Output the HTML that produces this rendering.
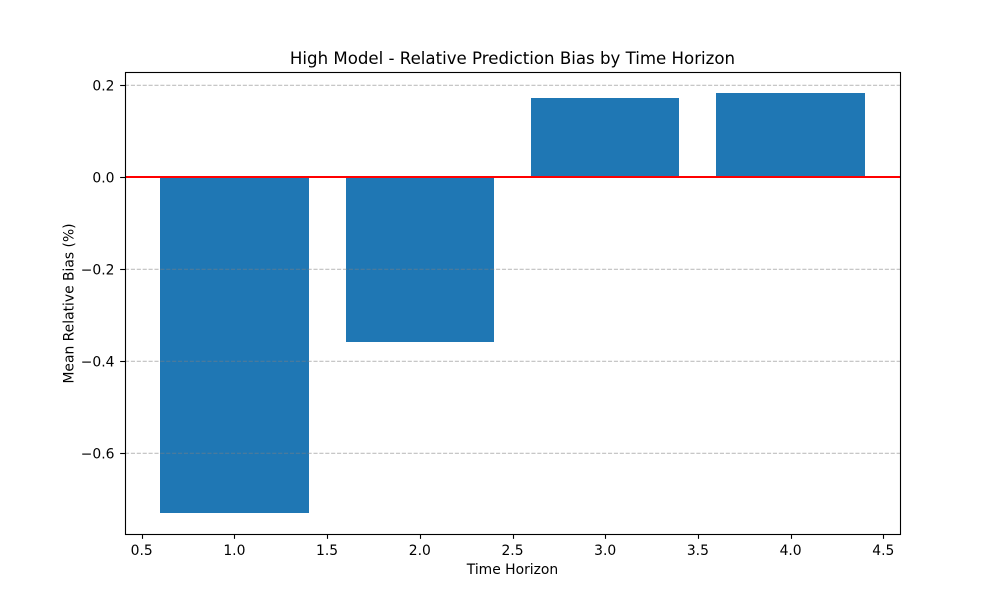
<!DOCTYPE html>
<html lang="en">
<head>
<meta charset="utf-8">
<title>High Model - Relative Prediction Bias by Time Horizon</title>
<style>
html,body{margin:0;padding:0;background:#fff;}
svg{display:block;}
text{font-family:"DejaVu Sans","Liberation Sans",sans-serif;fill:#000;}
</style>
</head>
<body>
<svg id="chart" xmlns="http://www.w3.org/2000/svg" width="1000" height="600" viewBox="0 0 1000 600">
<rect x="0" y="0" width="1000" height="600" fill="#fff"/>
<text x="512.5" y="64" font-size="16.62" text-anchor="middle">High Model - Relative Prediction Bias by Time Horizon</text>
<text x="512.5" y="574" font-size="13.89" text-anchor="middle">Time Horizon</text>
<text x="0" y="0" font-size="13.89" text-anchor="middle" transform="translate(73.5 303.5) rotate(-90)">Mean Relative Bias (%)</text>
</svg>
<script>
const categories = [1, 2, 3, 4];
const biasValues = [-0.73, -0.358, 0.172, 0.183];
const barWidth = 0.8;
const xTicks = [0.5, 1.0, 1.5, 2.0, 2.5, 3.0, 3.5, 4.0, 4.5];
const yTicks = [-0.6, -0.4, -0.2, 0.0, 0.2];

const plot = { left: 125, right: 900, top: 72, bottom: 534 };
const xDomain = [0.41, 4.59];
const zeroY = 177;
const pxPerUnit = 460;

function xScale(v) {
  return plot.left + (v - xDomain[0]) / (xDomain[1] - xDomain[0]) * (plot.right - plot.left);
}
function yScale(v) {
  return zeroY - v * pxPerUnit;
}

const svg = document.getElementById('chart');
const NS = 'http://www.w3.org/2000/svg';
function make(tag, attrs, text) {
  const el = document.createElementNS(NS, tag);
  for (const k in attrs) el.setAttribute(k, attrs[k]);
  if (text !== undefined) el.textContent = text;
  svg.appendChild(el);
  return el;
}

categories.forEach(function (c, i) {
  const v = biasValues[i];
  const x0 = Math.round(xScale(c - barWidth / 2));
  const x1 = Math.round(xScale(c + barWidth / 2));
  const y0 = Math.round(yScale(Math.max(v, 0)));
  const y1 = Math.round(yScale(Math.min(v, 0)));
  const bar = make('rect', { x: x0, y: y0, width: x1 - x0, height: y1 - y0, fill: '#1f77b4', 'shape-rendering': 'crispEdges' });
  
  
});

yTicks.forEach(function (t) {
  const y = yScale(t) + 0.3;
  const grid = make('line', { x1: plot.left, x2: plot.right, y1: y, y2: y, stroke: '#808080', 'stroke-opacity': 0.5, 'stroke-width': 1.11, 'stroke-dasharray': '4.11 1.78' });
  
  
});

const zeroLine = make('line', { x1: plot.left, x2: plot.right, y1: yScale(0), y2: yScale(0), stroke: '#ff0000', 'stroke-width': 2.08 });



xTicks.forEach(function (t) {
  const x = Math.round(xScale(t)) + 0.5;
  const tick = make('line', { x1: x, x2: x, y1: plot.bottom, y2: plot.bottom + 4.86, stroke: '#000', 'stroke-width': 1.11 });
  
  
  const label = make('text', { x: xScale(t), y: 555, 'font-size': 13.89, 'text-anchor': 'middle' }, t.toFixed(1));
  
  
});

yTicks.forEach(function (t) {
  const y = Math.round(yScale(t)) + 0.5;
  const tick = make('line', { x1: plot.left - 4.86, x2: plot.left, y1: y, y2: y, stroke: '#000', 'stroke-width': 1.11 });
  
  
  const text = (t < 0 ? '\u2212' : '') + Math.abs(t).toFixed(1);
  const label = make('text', { x: plot.left - 10.5, y: yScale(t) + 5.3, 'font-size': 13.89, 'text-anchor': 'end' }, text);
  
  
});

const frame = make('rect', { x: plot.left + 0.5, y: plot.top + 0.5, width: plot.right - plot.left, height: plot.bottom - plot.top, fill: 'none', stroke: '#000', 'stroke-width': 1.11 });


</script>
</body>
</html>
